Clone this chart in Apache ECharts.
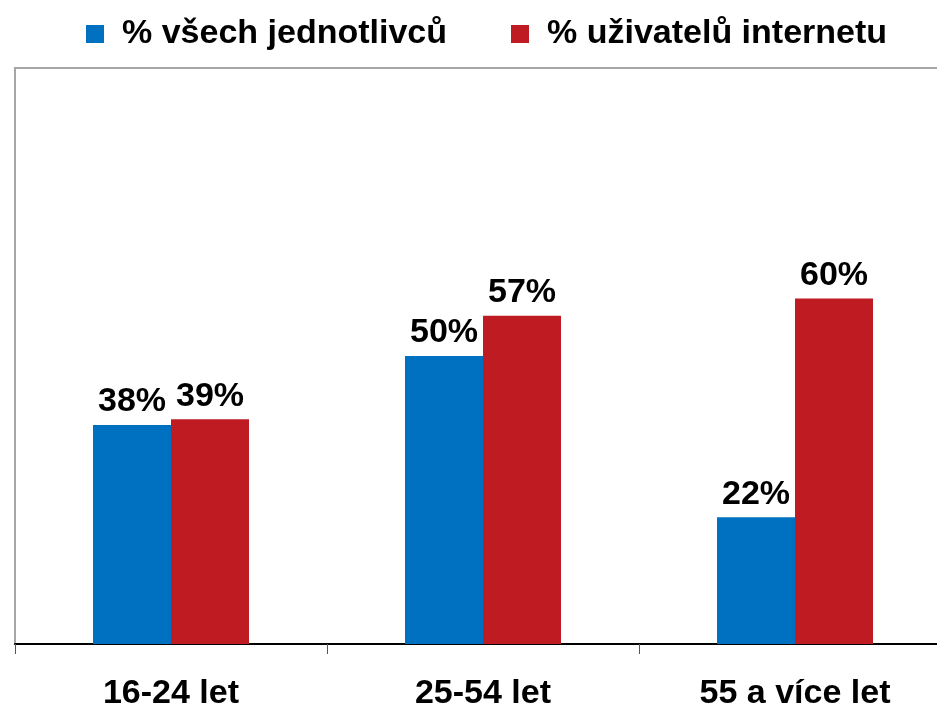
<!DOCTYPE html>
<html><head><meta charset="utf-8">
<script src="https://cdn.jsdelivr.net/npm/echarts@6/dist/echarts.min.js"></script>
<style>html,body{margin:0;padding:0;background:#fff}#c{width:937px;height:708px}</style>
</head><body><div id="c"></div>
<script>
const categories = ['16-24 let', '25-54 let', '55 a více let'];
const seriesNames = ['% všech jednotlivců', '% uživatelů internetu'];
const allIndividuals = [38, 50, 22];
const internetUsers = [39, 57, 60];

const font = 'Liberation Sans, Arial, sans-serif';
const chart = echarts.init(document.getElementById('c'));
const lbl = {show: true, position: 'top', distance: 6, formatter: '{c}%', color: '#000', fontSize: 34, fontWeight: 'bold', fontFamily: font};
chart.setOption({
  animation: false,
  legend: {
    left: 81, top: 12, itemWidth: 18, itemHeight: 18, itemGap: 64, icon: 'rect',
    textStyle: {fontSize: 34, fontWeight: 'bold', fontFamily: font, color: '#000', padding: [0, 0, 0, 13]},
    data: seriesNames
  },
  grid: {left: 15, width: 936, top: 68, bottom: 64, show: true, borderColor: '#a6a6a6', borderWidth: 2,
         containLabel: false, outerBoundsMode: 'none'},
  xAxis: {
    type: 'category', data: categories,
    axisLine: {lineStyle: {color: '#000', width: 2}},
    axisTick: {show: true, length: 10, lineStyle: {color: '#555', width: 1}},
    axisLabel: {margin: 33, fontSize: 34, fontWeight: 'bold', fontFamily: font, color: '#000'}
  },
  yAxis: {type: 'value', min: 0, max: 100, show: false, splitLine: {show: false}},
  series: [
    {name: seriesNames[0], type: 'bar', data: allIndividuals, barWidth: 78, barGap: 0, itemStyle: {color: '#0070c0'}, label: lbl},
    {name: seriesNames[1], type: 'bar', data: internetUsers, barWidth: 78, barGap: 0, itemStyle: {color: '#be1b22'}, label: lbl}
  ]
});
</script></body></html>
